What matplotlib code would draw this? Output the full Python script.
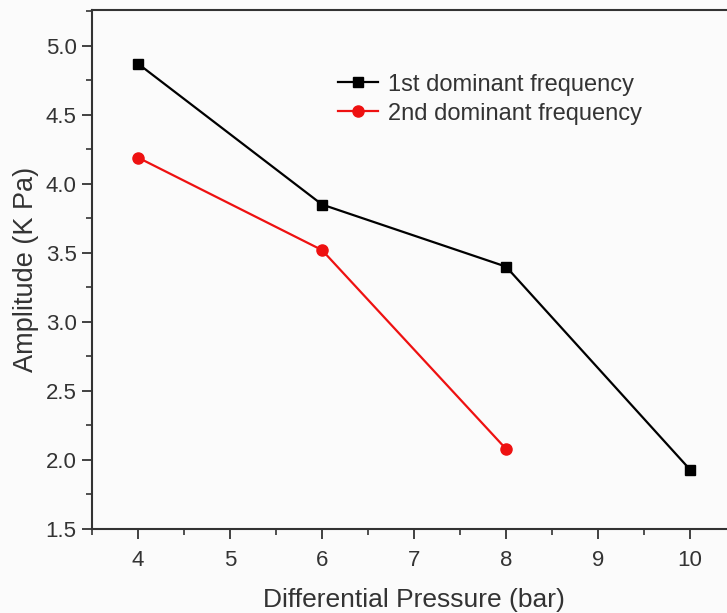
import matplotlib
matplotlib.use("Agg")
import matplotlib.pyplot as plt
from matplotlib.ticker import MultipleLocator

# differential pressure (bar) vs amplitude (kPa)
pressure_1st = [4, 6, 8, 10]
amp_1st = [4.87, 3.85, 3.40, 1.93]
pressure_2nd = [4, 6, 8]
amp_2nd = [4.19, 3.52, 2.08]
labels = ["1st dominant frequency", "2nd dominant frequency"]

plt.rcParams['font.family'] = ['Liberation Sans', 'DejaVu Sans']

fig = plt.figure(figsize=(7.27, 6.13), dpi=100, facecolor='#fbfbfb')
ax = fig.add_axes([0.1265, 0.137, 0.886, 0.847])
ax.set_facecolor('#fbfbfb')

ax.plot(pressure_1st, amp_1st, color='black', lw=1.6, marker='s', ms=7,
        label=labels[0])
ax.plot(pressure_2nd, amp_2nd, color='#ee1111', lw=1.6, marker='o', ms=8,
        label=labels[1])

ax.set_xlim(3.5, 10.5)
ax.set_ylim(1.5, 5.26)
ax.xaxis.set_major_locator(MultipleLocator(1))
ax.xaxis.set_minor_locator(MultipleLocator(0.5))
ax.yaxis.set_major_locator(MultipleLocator(0.5))
ax.yaxis.set_minor_locator(MultipleLocator(0.25))
ax.tick_params(which='major', direction='out', length=7, width=1.3,
               labelsize=16, colors='#333333', labelcolor='#333333', pad=4)
ax.tick_params(axis='x', which='major', pad=8)
ax.tick_params(which='minor', direction='out', length=4, width=1.2,
               colors='#333333')
for s in ax.spines.values():
    s.set_linewidth(1.5)
    s.set_color('#333333')

ax.set_xlabel("Differential Pressure (bar)", fontsize=19, color='#333333',
              labelpad=12)
ax.set_ylabel("Amplitude (K Pa)", fontsize=19.5, color='#333333', labelpad=5)

ax.legend(loc='upper left', bbox_to_anchor=(0.349, 0.918), frameon=False,
          fontsize=17, handlelength=1.7, handletextpad=0.4,
          labelspacing=0.3, labelcolor='#333333')

fig.savefig("out.png", dpi=100, facecolor=fig.get_facecolor())
